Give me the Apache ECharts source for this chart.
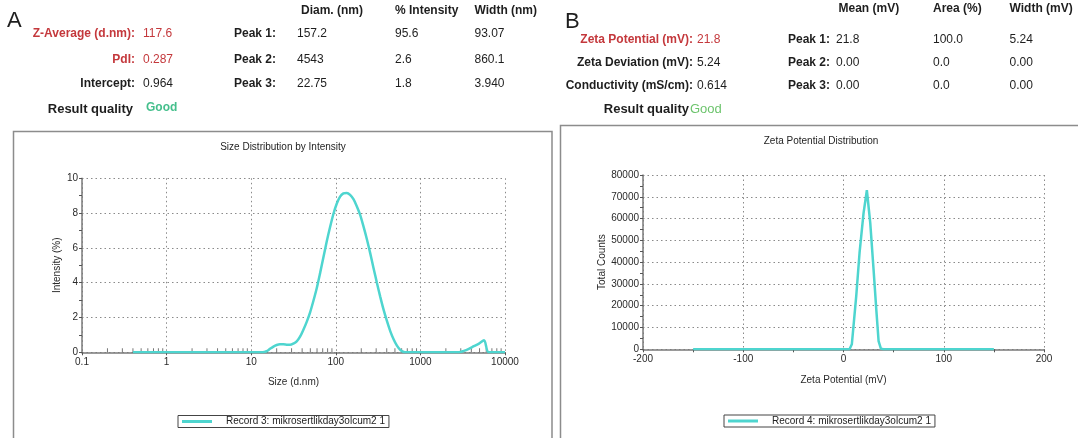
<!DOCTYPE html>
<html>
<head>
<meta charset="utf-8">
<script src="https://cdn.jsdelivr.net/npm/echarts@6/dist/echarts.min.js"></script>
<style>
html,body{margin:0;padding:0;background:#fff;}
#chart{width:1078px;height:438px;}
</style>
</head>
<body>
<div id="chart"></div>
<script>
// ---------- Panel A: size distribution by intensity ----------
const sizeX = [0.4, 1, 5, 10, 13.6, 15.2, 16.7, 18.3, 20, 21.9, 24, 26.3, 28.8, 31.5, 34.5, 37.8, 41.4, 45.3, 49.7, 54.3, 59.6, 65.2, 71.3, 78, 85.6, 93.7, 102.8, 112.4, 123, 134.9, 147.6, 161.7, 177, 194, 212, 233, 255, 279, 306, 335, 367, 402, 440, 482, 528, 578, 633, 693, 1000, 2000, 2840, 3260, 3740, 4290, 4930, 5650, 6430, 10000];
const sizeY = [0, 0, 0, 0, 0, 0.06, 0.2, 0.33, 0.42, 0.46, 0.46, 0.44, 0.43, 0.5, 0.63, 0.9, 1.3, 1.75, 2.3, 2.95, 3.7, 4.55, 5.45, 6.35, 7.2, 7.95, 8.55, 8.95, 9.13, 9.16, 9.05, 8.8, 8.4, 7.9, 7.25, 6.5, 5.7, 4.85, 4.0, 3.2, 2.45, 1.8, 1.22, 0.75, 0.38, 0.14, 0.02, 0, 0, 0, 0, 0.08, 0.2, 0.35, 0.5, 0.69, 0, 0];
const sizeTickLabels = ['0.1', '1', '10', '100', '1000', '10000'];
// minor (log) tick positions on the size axis
const sizeMinorTicks = [0.2, 0.3, 0.4, 0.5, 0.6, 0.7, 0.8, 0.9, 2, 3, 4, 5, 6, 7, 8, 9, 20, 30, 40, 50, 60, 70, 80, 90, 200, 300, 400, 500, 600, 700, 800, 900, 2000, 3000, 4000, 5000, 6000, 7000, 8000, 9000];
const sizeSeriesName = 'Record 3: mikrosertlikday3olcum2 1';

const sizeStatLabels = ['Z-Average (d.nm):', 'PdI:', 'Intercept:'];
const sizeStatValues = ['117.6', '0.287', '0.964'];
const sizeStatRed = [true, true, false];
const sizePeakHeaders = ['Diam. (nm)', '% Intensity', 'Width (nm)'];
const sizePeakLabels = ['Peak 1:', 'Peak 2:', 'Peak 3:'];
const sizePeakRows = [['157.2', '95.6', '93.07'], ['4543', '2.6', '860.1'], ['22.75', '1.8', '3.940']];

// ---------- Panel B: zeta potential distribution ----------
const zetaX = [-150, -100, -50, 0, 6, 8.3, 10, 12.7, 16, 20, 23.3, 26.7, 30, 32.7, 35, 37.3, 40, 100, 150];
const zetaY = [0, 0, 0, 0, 0, 2300, 10700, 24400, 44200, 62500, 73000, 57900, 36600, 18300, 3800, 300, 0, 0, 0];
const zetaSeriesName = 'Record 4: mikrosertlikday3olcum2 1';

const zetaStatLabels = ['Zeta Potential (mV):', 'Zeta Deviation (mV):', 'Conductivity (mS/cm):'];
const zetaStatValues = ['21.8', '5.24', '0.614'];
const zetaStatRed = [true, false, false];
const zetaPeakHeaders = ['Mean (mV)', 'Area (%)', 'Width (mV)'];
const zetaPeakLabels = ['Peak 1:', 'Peak 2:', 'Peak 3:'];
const zetaPeakRows = [['21.8', '100.0', '5.24'], ['0.00', '0.0', '0.00'], ['0.00', '0.0', '0.00']];

const FONT = "'Liberation Sans', Arial, sans-serif";
const RED = '#c4383c';
const DARK = '#1e1e1e';
const LINE = '#4ed5cf';

function txt(x, y, text, opts) {
  opts = opts || {};
  return {
    type: 'text', x: x, y: y, silent: true,
    style: {
      text: text,
      fill: opts.fill || DARK,
      font: (opts.weight || 'normal') + ' ' + (opts.size || 12) + 'px ' + FONT,
      textAlign: opts.align || 'left',
      textVerticalAlign: 'middle',
      verticalAlign: 'middle'
    }
  };
}

const graphics = [];
// frames
graphics.push({type: 'rect', shape: {x: 13.5, y: 131.5, width: 538.5, height: 320}, style: {fill: 'none', stroke: '#8c8c8c', lineWidth: 1.5}, silent: true, z: -1});
graphics.push({type: 'rect', shape: {x: 560.5, y: 125.5, width: 540, height: 330}, style: {fill: 'none', stroke: '#8c8c8c', lineWidth: 1.5}, silent: true, z: -1});
// panel letters
graphics.push(txt(7, 21, 'A', {size: 22}));
graphics.push(txt(565, 22, 'B', {size: 22}));
// Panel A header
const aRows = [34, 60, 84];
sizeStatLabels.forEach((l, i) => {
  const c = sizeStatRed[i] ? RED : DARK;
  graphics.push(txt(135, aRows[i], l, {weight: 'bold', align: 'right', fill: c}));
  graphics.push(txt(143, aRows[i], sizeStatValues[i], {fill: c}));
});
graphics.push(txt(133, 109, 'Result quality', {weight: 'bold', align: 'right', size: 13}));
graphics.push(txt(146, 108, 'Good', {weight: 'bold', fill: '#45bf8c'}));
const aCols = [297, 395, 474.5];
const aHeadCols = [301, 395, 474.5];
sizePeakHeaders.forEach((h, j) => graphics.push(txt(aHeadCols[j], 11, h, {weight: 'bold'})));
sizePeakLabels.forEach((l, i) => {
  graphics.push(txt(234, aRows[i], l, {weight: 'bold'}));
  sizePeakRows[i].forEach((v, j) => graphics.push(txt(aCols[j], aRows[i], v)));
});
// Panel B header
const bRows = [39.5, 63, 86];
zetaStatLabels.forEach((l, i) => {
  const c = zetaStatRed[i] ? RED : DARK;
  graphics.push(txt(693, bRows[i], l, {weight: 'bold', align: 'right', fill: c}));
  graphics.push(txt(697, bRows[i], zetaStatValues[i], {fill: c}));
});
graphics.push(txt(689, 109, 'Result quality', {weight: 'bold', align: 'right', size: 13}));
graphics.push(txt(690, 109, 'Good', {fill: '#6cc46c', size: 13}));
const bCols = [836, 933, 1009.5];
const bHeadCols = [838.5, 933, 1009.5];
zetaPeakHeaders.forEach((h, j) => graphics.push(txt(bHeadCols[j], 9, h, {weight: 'bold'})));
zetaPeakLabels.forEach((l, i) => {
  graphics.push(txt(788, bRows[i], l, {weight: 'bold'}));
  zetaPeakRows[i].forEach((v, j) => graphics.push(txt(bCols[j], bRows[i], v)));
});
// chart titles
graphics.push(txt(283, 147.5, 'Size Distribution by Intensity', {size: 10, align: 'center'}));
graphics.push(txt(821, 141.5, 'Zeta Potential Distribution', {size: 10, align: 'center'}));

const axisLabelStyle = {color: '#2a2a2a', fontSize: 10, fontFamily: FONT};
const splitDotted = {show: true, lineStyle: {type: [1.5, 3], color: '#8a8a8a', width: 1}};
const axisLineStyle = {show: true, onZero: false, lineStyle: {color: '#7a7a7a', width: 1.5}};
const tickStyle = {show: true, length: 3, lineStyle: {color: '#555', width: 1}};
const minorTickStyle = {show: true, splitNumber: 2, length: 3, lineStyle: {color: '#555', width: 1}};
const nameStyle = {color: '#2a2a2a', fontSize: 10, fontFamily: FONT};
const legendBase = {
  orient: 'horizontal', icon: 'rect', itemWidth: 30, itemHeight: 3, itemGap: 0,
  padding: [1, 4, 1, 4], borderColor: '#444', borderWidth: 1, backgroundColor: '#fff',
  textStyle: {color: '#222', fontSize: 10, fontFamily: FONT, padding: [0, 0, 0, 9]}
};

const chart = echarts.init(document.getElementById('chart'), null, {renderer: 'canvas'});
chart.setOption({
  backgroundColor: '#ffffff',
  animation: false,
  textStyle: {fontFamily: FONT},
  grid: [
    {left: 82, top: 178.3, width: 423, height: 174, containLabel: false},
    {left: 643, top: 175, width: 401, height: 174.3, containLabel: false}
  ],
  xAxis: [
    {
      gridIndex: 0, type: 'log', logBase: 10, min: 0.1, max: 10000,
      name: 'Size (d.nm)', nameLocation: 'middle', nameGap: 25, nameTextStyle: nameStyle,
      axisLine: axisLineStyle, axisTick: tickStyle, splitLine: splitDotted,
      axisLabel: Object.assign({margin: 5, formatter: (v, i) => sizeTickLabels[i] !== undefined ? sizeTickLabels[i] : String(v)}, axisLabelStyle)
    },
    {
      gridIndex: 1, type: 'value', min: -200, max: 200, interval: 100,
      name: 'Zeta Potential (mV)', nameLocation: 'middle', nameGap: 26, nameTextStyle: nameStyle,
      axisLine: axisLineStyle, axisTick: tickStyle, minorTick: minorTickStyle, splitLine: splitDotted,
      axisLabel: Object.assign({margin: 5, formatter: (v) => String(v)}, axisLabelStyle)
    }
  ],
  yAxis: [
    {
      gridIndex: 0, type: 'value', min: 0, max: 10, interval: 2,
      name: 'Intensity (%)', nameLocation: 'middle', nameGap: 20, nameTextStyle: nameStyle,
      axisLine: axisLineStyle, axisTick: tickStyle, minorTick: minorTickStyle, splitLine: splitDotted,
      axisLabel: Object.assign({margin: 4, formatter: (v) => String(v)}, axisLabelStyle)
    },
    {
      gridIndex: 1, type: 'value', min: 0, max: 80000, interval: 10000,
      name: 'Total Counts', nameLocation: 'middle', nameGap: 36, nameTextStyle: nameStyle,
      axisLine: axisLineStyle, axisTick: tickStyle, minorTick: minorTickStyle, splitLine: splitDotted,
      axisLabel: Object.assign({margin: 4, formatter: (v) => String(v)}, axisLabelStyle)
    }
  ],
  legend: [
    Object.assign({data: [sizeSeriesName], left: 178, top: 415.5}, legendBase),
    Object.assign({data: [zetaSeriesName], left: 724, top: 415}, legendBase)
  ],
  series: [
    {
      name: 'sizeMinorTicks', type: 'scatter', xAxisIndex: 0, yAxisIndex: 0,
      data: sizeMinorTicks.map((x) => [x, 0]),
      symbol: 'rect', symbolSize: [1, 4], symbolOffset: [0, -2],
      itemStyle: {color: '#555'}, silent: true, z: 1, legendHoverLink: false,
      tooltip: {show: false}
    },
    {
      name: sizeSeriesName, type: 'line', xAxisIndex: 0, yAxisIndex: 0,
      data: sizeX.map((x, i) => [x, sizeY[i]]),
      smooth: 0.3, showSymbol: false, symbol: 'none', color: LINE,
      lineStyle: {color: LINE, width: 2.5}, z: 3
    },
    {
      name: zetaSeriesName, type: 'line', xAxisIndex: 1, yAxisIndex: 1,
      data: zetaX.map((x, i) => [x, zetaY[i]]),
      smooth: false, showSymbol: false, symbol: 'none', color: LINE,
      lineStyle: {color: LINE, width: 2.5}, z: 3
    }
  ],
  graphic: graphics
});
</script>
</body>
</html>
